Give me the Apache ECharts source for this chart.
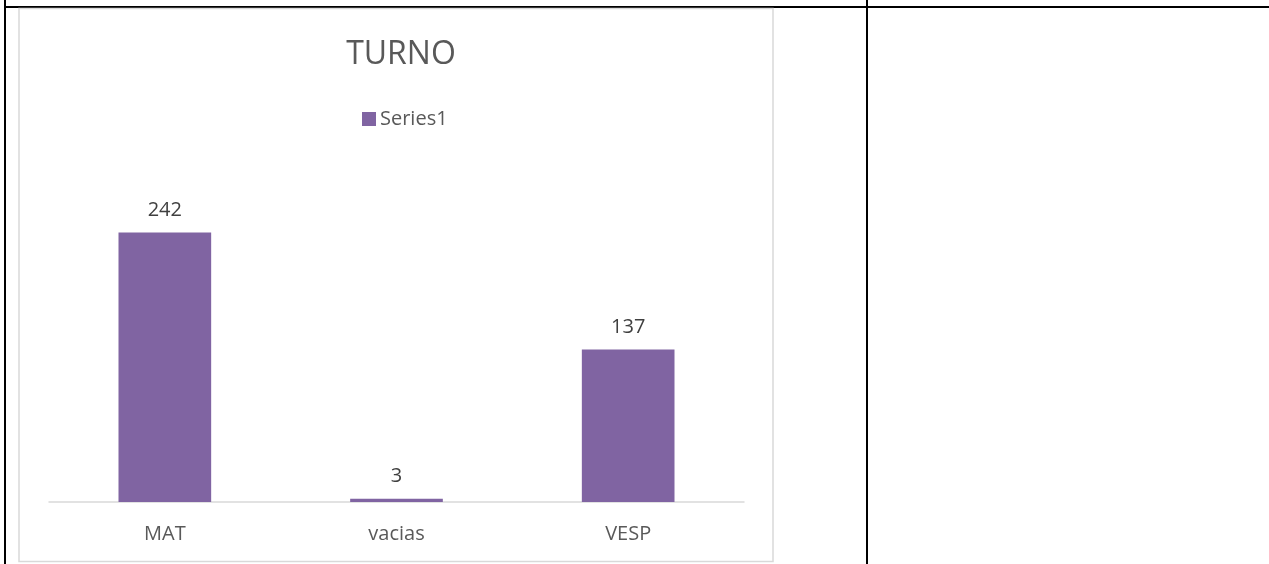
<!DOCTYPE html>
<html>
<head>
<meta charset="utf-8">
<script src="https://cdn.jsdelivr.net/npm/echarts@6/dist/echarts.min.js"></script>
<style>
  body { margin: 0; background: #fff; }
  #chart { width: 1269px; height: 564px; }
</style>
</head>
<body>
<div id="chart"></div>
<script>
// datos del grafico
var categorias = ['MAT', 'vacias', 'VESP'];
var valores = [242, 3, 137];
var nombreSerie = 'Series1';
var titulo = 'TURNO';

var myChart = echarts.init(document.getElementById('chart'));

var option = {
    animation: false,
    backgroundColor: '#ffffff',
    textStyle: { fontFamily: 'Open Sans' },
    title: {
        text: titulo,
        left: 396,
        textAlign: 'center',
        top: 34,
        textStyle: { fontSize: 32, fontWeight: 'normal', color: '#595959', fontFamily: 'Open Sans' }
    },
    legend: {
        data: [nombreSerie],
        left: 357,
        top: 104,
        icon: 'rect',
        itemWidth: 14,
        itemHeight: 14,
        itemGap: 4,
        textStyle: { fontSize: 20, color: '#595959', padding: [0, 0, 0, -1] }
    },
    grid: {
        left: 49,
        width: 695,
        top: 168,
        bottom: 62,
        containLabel: false
    },
    xAxis: {
        type: 'category',
        data: categorias,
        axisLine: { lineStyle: { color: '#d9d9d9', width: 1.5 } },
        axisTick: { show: false },
        axisLabel: { fontSize: 20, color: '#595959', margin: 22 }
    },
    yAxis: {
        type: 'value',
        min: 0,
        max: 300,
        show: false,
        splitLine: { show: false }
    },
    series: [{
        name: nombreSerie,
        type: 'bar',
        data: valores,
        barCategoryGap: '60%',
        itemStyle: { color: '#8064A2' },
        label: {
            show: true,
            position: 'top',
            distance: 12,
            fontSize: 20,
            color: '#404040'
        }
    }],
    graphic: [
        // bordes de la tabla
        { type: 'rect', shape: { x: 4, y: 6, width: 1265, height: 2 }, style: { fill: '#000' }, z: -1 },
        { type: 'rect', shape: { x: 4, y: 0, width: 2, height: 564 }, style: { fill: '#000' }, z: -1 },
        { type: 'rect', shape: { x: 866, y: 0, width: 2, height: 564 }, style: { fill: '#000' }, z: -1 },
        // marco del grafico
        { type: 'rect', shape: { x: 19, y: 8.5, width: 754, height: 553 }, style: { fill: '#fff', stroke: '#d9d9d9', lineWidth: 1.5 }, z: -1 }
    ]
};

myChart.setOption(option);
</script>
</body>
</html>
